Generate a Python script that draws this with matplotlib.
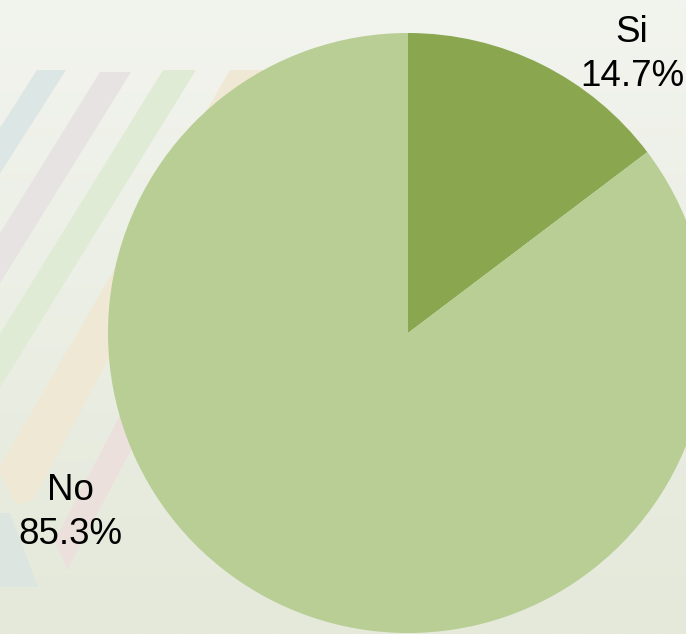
import matplotlib
matplotlib.use('Agg')
import matplotlib.pyplot as plt
import matplotlib.colors as mcolors
import numpy as np
from matplotlib.patches import Polygon

labels = ['Si', 'No']
values = [14.7, 85.3]
colors = ['#8aa750', '#b8ce94']

# label anchor (x, baseline y) in pixel space, same order as labels
label_pos = [(632, 42), (70, 500)]
line_gap = 44

W, H = 686, 634
plt.rcParams['font.family'] = ['Liberation Sans', 'DejaVu Sans']

fig = plt.figure(figsize=(W / 100, H / 100), dpi=100)
ax = fig.add_axes([0, 0, 1, 1])

# background gradient
top = np.array(mcolors.to_rgb('#f2f4ee'))
bot = np.array(mcolors.to_rgb('#e4e9da'))
t = np.linspace(0, 1, 256)[:, None, None]
grad = top * (1 - t) + bot * t
ax.imshow(np.repeat(grad, 2, axis=1), extent=[0, W, H, 0], aspect='auto', zorder=0)

# decorative diagonal stripes
stripes = [
  ('#dce6e5', [(37, 70), (66, 70), (-100, 330), (-129, 330)]),
  ('#e8e3e3', [(100, 72), (131, 72), (-60, 380), (-91, 380)]),
  ('#e0ebd6', [(163, 70), (196, 70), (-20, 420), (-53, 420)]),
  ('#efe8d4', [(230, 70), (263, 70), (33, 500), (17, 505), (-2, 470)]),
  ('#ece0dc', [(128, 400), (158, 400), (67, 570), (55, 540)]),
  ('#dce5e0', [(0, 513), (10, 513), (38, 587), (0, 587)]),
]
for c, pts in stripes:
  ax.add_patch(Polygon(pts, closed=True, facecolor=c, edgecolor='none', zorder=1))

# y axis is flipped below, so counterclock in data = clockwise on screen
ax.pie(
  values,
  colors=colors,
  startangle=-90,
  counterclock=True,
  center=(408, 333),
  radius=300,
  frame=True,
  wedgeprops={'linewidth': 0, 'zorder': 2},
)
ax.set_xlim(0, W)
ax.set_ylim(H, 0)
ax.set_aspect('equal')
ax.axis('off')

for name, val, (x, y) in zip(labels, values, label_pos):
  ax.text(x, y, name, fontsize=26.5, ha='center', va='baseline', color='black', zorder=3)
  ax.text(x, y + line_gap, f'{val:.1f}%', fontsize=26.5, ha='center', va='baseline', color='black', zorder=3)

fig.savefig('out.png', dpi=100)
